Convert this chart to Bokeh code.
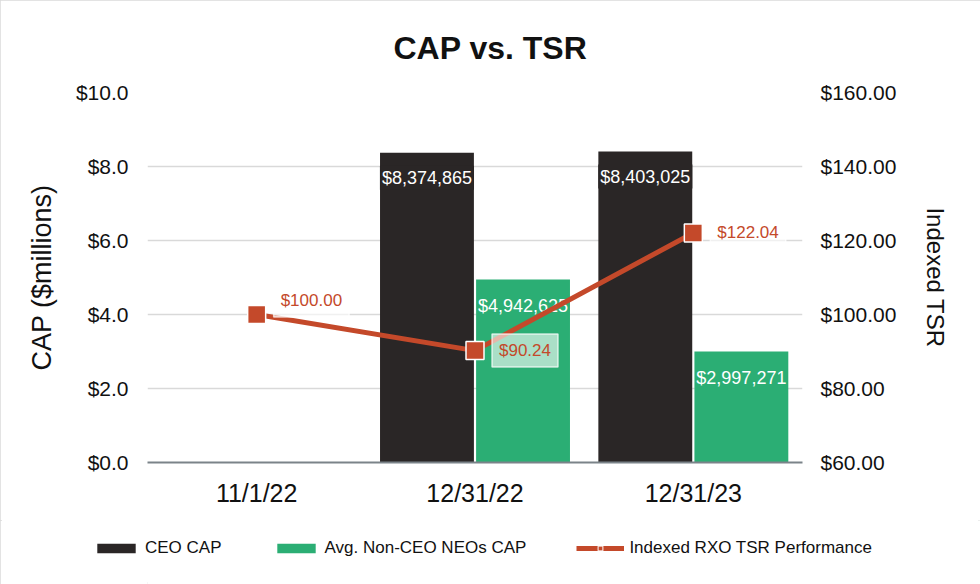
from bokeh.plotting import figure
from bokeh.layouts import column
from bokeh.models import (ColumnDataSource, FactorRange, Range1d, LinearAxis, Title,
                          Legend, LegendItem, NumeralTickFormatter, SingleIntervalTicker)
from bokeh.transform import dodge
from bokeh.core.properties import value
from bokeh.embed import file_html
from bokeh.resources import INLINE

# ---- data ----
dates = ["11/1/22", "12/31/22", "12/31/23"]
ceo_cap = [0.0, 8.374865, 8.403025]      # $ millions
neo_cap = [0.0, 4.942625, 2.997271]      # $ millions
tsr = [100.00, 90.24, 122.04]            # indexed TSR
ceo_labels = ["", "$8,374,865", "$8,403,025"]
neo_labels = ["", "$4,942,625", "$2,997,271"]
tsr_labels = ["$100.00", "$90.24", "$122.04"]
series_names = ["CEO CAP", "Avg. Non-CEO NEOs CAP", "Indexed RXO TSR Performance"]
left_ticks_fmt = "$0.0"
right_ticks_fmt = "$0.00"

# ---- styles ----
FONT = "Liberation Sans"
BLACK = "#2A2626"
GREEN = "#2BAE74"
ORANGE = "#C4492A"
GRID = "#D9D9D9"
TXT = "#111111"
tsr_label_dy = [14, 0, 0]  # label style offsets (px, up)

src = ColumnDataSource(dict(date=dates, ceo=ceo_cap, neo=neo_cap, tsr=tsr,
                            ceo_lab=ceo_labels, neo_lab=neo_labels,
                            tsr_lab=tsr_labels, tsr_dy=[-d for d in tsr_label_dy]))

p = figure(x_range=FactorRange(factors=dates, range_padding=0), y_range=Range1d(0, 10),
           frame_width=655, frame_height=370,
           min_border_left=147, min_border_right=178, min_border_top=92, min_border_bottom=58,
           output_backend="svg", toolbar_location=None, tools="")
p.extra_y_ranges = {"tsr": Range1d(60, 160)}
p.outline_line_color = None
p.background_fill_color = "white"
p.border_fill_color = "white"

# bars
r_ceo = p.vbar(x=dodge("date", -0.22, range=p.x_range), top="ceo", width=0.43, source=src,
               fill_color=BLACK, line_color=None)
r_neo = p.vbar(x=dodge("date", 0.22, range=p.x_range), top="neo", width=0.43, source=src,
               fill_color=GREEN, line_color=None)

# bar labels
p.text(x=dodge("date", -0.22, range=p.x_range), y="ceo", text="ceo_lab", source=src,
       y_offset=25, text_align="center", text_baseline="middle",
       text_font=value(FONT), text_font_size="18px", text_color="white",
       background_fill_color=BLACK, padding=2)
p.text(x=dodge("date", 0.22, range=p.x_range), y="neo", text="neo_lab", source=src,
       y_offset=26, text_align="center", text_baseline="middle",
       text_font=value(FONT), text_font_size="18px", text_color="white")

# TSR line
r_line = p.line(x="date", y="tsr", source=src, y_range_name="tsr",
                line_color=ORANGE, line_width=5)
r_pts = p.scatter(x="date", y="tsr", source=src, y_range_name="tsr", marker="square",
                  size=18, fill_color=ORANGE, line_color="white", line_width=1.5)
p.text(x="date", y="tsr", text="tsr_lab", source=src, y_range_name="tsr",
       x_offset=17, y_offset="tsr_dy", text_align="left", text_baseline="middle",
       text_font=value(FONT), text_font_size="17px", text_color=ORANGE,
       background_fill_color="white", background_fill_alpha=0.6,
       border_line_color="white", border_line_alpha=0.7, border_line_width=1.5,
       padding=7)

# axes
p.xgrid.grid_line_color = None
p.ygrid.grid_line_color = GRID
p.ygrid.grid_line_width = 1.5
p.yaxis.ticker = SingleIntervalTicker(interval=2)
p.yaxis.formatter = NumeralTickFormatter(format=left_ticks_fmt)

ax_l = p.yaxis[0]
ax_l.axis_line_color = None
ax_l.major_tick_line_color = None
ax_l.minor_tick_line_color = None
ax_l.major_label_standoff = 13
ax_l.major_label_text_font = FONT
ax_l.major_label_text_font_size = "21px"
ax_l.major_label_text_color = TXT
ax_l.axis_label = "CAP ($millions)"
ax_l.axis_label_text_font = FONT
ax_l.axis_label_text_font_size = "27px"
ax_l.axis_label_text_font_style = "normal"
ax_l.axis_label_text_color = TXT
ax_l.axis_label_standoff = 16

ax_r = LinearAxis(y_range_name="tsr", ticker=SingleIntervalTicker(interval=20),
                  formatter=NumeralTickFormatter(format=right_ticks_fmt))
ax_r.axis_line_color = None
ax_r.major_tick_line_color = None
ax_r.minor_tick_line_color = None
ax_r.major_label_standoff = 12
ax_r.major_label_text_font = FONT
ax_r.major_label_text_font_size = "21px"
ax_r.major_label_text_color = TXT
ax_r.axis_label = "Indexed TSR"
ax_r.axis_label_text_font = FONT
ax_r.axis_label_text_font_size = "24px"
ax_r.axis_label_text_font_style = "normal"
ax_r.axis_label_text_color = TXT
ax_r.axis_label_standoff = 23
p.add_layout(ax_r, "right")

ax_b = p.xaxis[0]
ax_b.axis_line_color = "#7B8389"
ax_b.axis_line_width = 2
ax_b.major_tick_line_color = None
ax_b.minor_tick_line_color = None
ax_b.major_label_standoff = 10
ax_b.major_label_text_font = FONT
ax_b.major_label_text_font_size = "25px"
ax_b.major_label_text_color = TXT

# title
p.title = Title(text="CAP vs. TSR", align="left", offset=246, standoff=54,
                text_font=FONT, text_font_size="32px", text_font_style="bold",
                text_color=TXT)

# legend strip (separate figure below the chart); key glyphs sit outside its ranges
lg = figure(x_range=Range1d(0, 1), y_range=Range1d(0, 1), frame_width=980, frame_height=64,
            min_border=0, output_backend="svg", toolbar_location=None, tools="")
lg.axis.visible = False
lg.grid.visible = False
lg.outline_line_color = None
lg.background_fill_color = "white"
lg.border_fill_color = "white"
key = ColumnDataSource(dict(x=[5.0], y=[5.0]))
k_ceo = lg.vbar(x="x", top="y", width=0.1, source=key, fill_color=BLACK, line_color=None)
k_neo = lg.vbar(x="x", top="y", width=0.1, source=key, fill_color=GREEN, line_color=None)
k_line = lg.line(x="x", y="y", source=key, line_color=ORANGE, line_width=5)
k_pts = lg.scatter(x="x", y="y", source=key, marker="square", size=12,
                   fill_color=ORANGE, line_color="white", line_width=1)
legend = Legend(items=[LegendItem(label=series_names[0], renderers=[k_ceo]),
                       LegendItem(label=series_names[1], renderers=[k_neo]),
                       LegendItem(label=series_names[2], renderers=[k_line, k_pts])],
                orientation="horizontal", location=(92, 26),
                border_line_color=None, background_fill_alpha=0,
                glyph_width=48, glyph_height=12, label_standoff=5, spacing=50,
                padding=0, margin=0, label_height=12,
                label_text_font=FONT, label_text_font_size="17px", label_text_color=TXT)
lg.add_layout(legend, "center")

page = column(p, lg, spacing=0)
page.stylesheets = [":host { outline: 2px solid #DADADA; outline-offset: -2px; }"]

open("out.html", "w").write(file_html(page, INLINE))
